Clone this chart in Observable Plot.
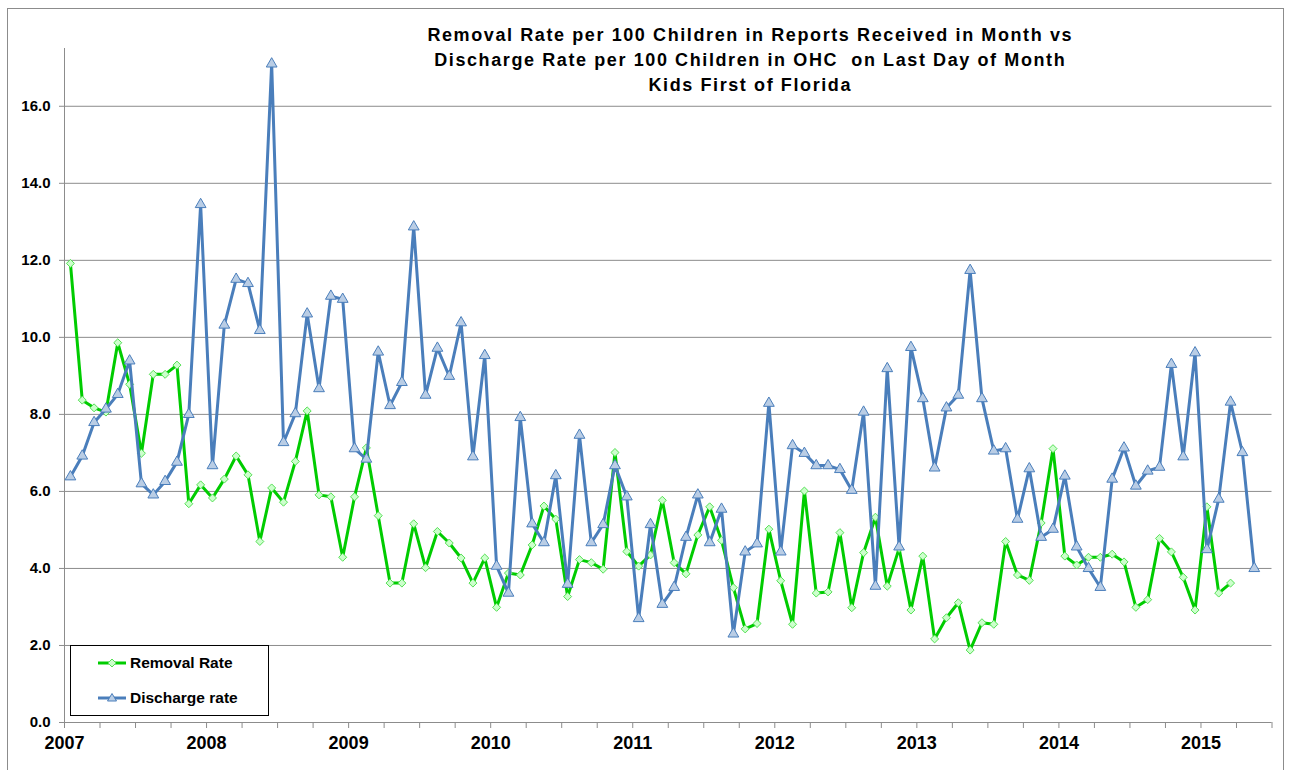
<!DOCTYPE html>
<html><head><meta charset="utf-8">
<script src="https://cdn.jsdelivr.net/npm/d3@7"></script>
<script src="https://cdn.jsdelivr.net/npm/@observablehq/plot@0.6"></script>
<style>
body{margin:0;background:#fff;font-family:"Liberation Sans",Arial,sans-serif;}
#wrap{position:relative;width:1294px;height:770px;overflow:hidden;}
#frame{position:absolute;left:7px;top:8px;width:1277px;height:780px;border:1px solid #8c8c8c;pointer-events:none;box-sizing:border-box;}
#legend{position:absolute;left:70px;top:645px;width:199px;height:71px;border:1px solid #000;background:#fff;box-sizing:border-box;font-weight:bold;font-size:15.5px;color:#000;}
#legend .row{position:absolute;left:27px;height:20px;display:flex;align-items:center;}
#legend svg{margin-right:3px;}
</style></head><body><div id="wrap"><div id="frame"></div></div>
<script>
const startYear = 2007;
const monthsOnAxis = 102;
const seriesNames = ["Removal Rate", "Discharge rate"];
const titleLines = [
  "Removal Rate per 100 Children in Reports Received in Month vs",
  "Discharge Rate per 100 Children in OHC  on Last Day of Month",
  "Kids First of Florida"
];
const yTicks = [0, 2, 4, 6, 8, 10, 12, 14, 16];
// monthly values starting Jan 2007
const removalRate = [
  11.92, 8.37, 8.17, 8.06, 9.86, 8.78, 6.99, 9.04, 9.04, 9.28, 5.68, 6.17,
  5.83, 6.32, 6.92, 6.43, 4.70, 6.09, 5.72, 6.78, 8.09, 5.91, 5.86, 4.29,
  5.86, 7.13, 5.37, 3.62, 3.62, 5.16, 4.02, 4.96, 4.66, 4.27, 3.62, 4.27,
  2.99, 3.88, 3.83, 4.61, 5.62, 5.28, 3.27, 4.23, 4.15, 3.98, 7.01, 4.44,
  4.06, 4.35, 5.77, 4.15, 3.86, 4.87, 5.60, 4.73, 3.50, 2.43, 2.57, 5.02,
  3.68, 2.55, 6.01, 3.36, 3.39, 4.93, 2.98, 4.41, 5.33, 3.54, 4.52, 2.92,
  4.32, 2.17, 2.72, 3.11, 1.88, 2.59, 2.55, 4.70, 3.83, 3.69, 5.18, 7.11,
  4.32, 4.09, 4.29, 4.29, 4.37, 4.17, 2.99, 3.19, 4.78, 4.43, 3.77, 2.92,
  5.60, 3.36, 3.62
];
const dischargeRate = [
  6.38, 6.92, 7.79, 8.14, 8.52, 9.39, 6.20, 5.91, 6.26, 6.76, 8.00, 13.45,
  6.67, 10.32, 11.51, 11.40, 10.18, 17.10, 7.27, 8.02, 10.61, 8.67, 11.07, 10.99,
  7.11, 6.84, 9.62, 8.23, 8.83, 12.87, 8.50, 9.72, 8.99, 10.38, 6.90, 9.53,
  4.06, 3.36, 7.92, 5.16, 4.67, 6.41, 3.59, 7.46, 4.67, 5.14, 6.67, 5.86,
  2.70, 5.14, 3.07, 3.51, 4.81, 5.91, 4.67, 5.54, 2.30, 4.43, 4.64, 8.29,
  4.43, 7.19, 6.99, 6.67, 6.67, 6.57, 6.03, 8.06, 3.54, 9.19, 4.56, 9.74,
  8.41, 6.61, 8.17, 8.50, 11.74, 8.41, 7.05, 7.11, 5.28, 6.59, 4.81, 5.02,
  6.40, 4.56, 4.00, 3.51, 6.32, 7.13, 6.14, 6.53, 6.63, 9.30, 6.90, 9.60,
  4.49, 5.80, 8.32, 7.01, 4.00
];

const greenLine = "#00cc00", greenFill = "#ccffcc", greenMark = "#55e055";
const blueLine = "#4a7ebb", blueFill = "#b9cde5", blueMark = "#4a7ebb";
const gridColor = "#8c8c8c";

const removalRows = removalRate.map((v, i) => ({m: i + 0.5, v}));
const dischargeRows = dischargeRate.map((v, i) => ({m: i + 0.5, v}));

const chart = Plot.plot({
  width: 1294,
  height: 770,
  marginLeft: 64,
  marginRight: 22.5,
  marginTop: 48,
  marginBottom: 48,
  style: {fontFamily: "'Liberation Sans', Arial, sans-serif", background: "transparent", color: "#000"},
  x: {domain: [0, monthsOnAxis], label: null},
  y: {domain: [0, 17.5], label: null},
  marks: [
    Plot.gridY(yTicks.filter(d => d > 0), {stroke: gridColor, strokeOpacity: 1, strokeWidth: 1}),
    Plot.ruleY([0], {stroke: gridColor, strokeWidth: 1}),
    Plot.ruleX([0], {stroke: gridColor, strokeWidth: 1}),
    Plot.axisY({ticks: yTicks, tickFormat: d3.format(".1f"), tickSize: 5, tickPadding: 9,
      fontSize: 15, fontWeight: "bold", stroke: gridColor, fill: "#000", label: null}),
    Plot.axisX({ticks: d3.range(0, monthsOnAxis + 1, 3),
      tickFormat: d => d % 12 === 0 ? String(startYear + d / 12) : "",
      tickSize: 6, tickPadding: 8, fontSize: 18, fontWeight: "bold", stroke: gridColor, fill: "#000", label: null}),
    Plot.line(removalRows, {x: "m", y: "v", stroke: greenLine, strokeWidth: 3, curve: "linear"}),
    Plot.dot(removalRows, {x: "m", y: "v", symbol: "diamond2", r: 3.6, fill: greenFill, stroke: greenMark, strokeWidth: 1}),
    Plot.line(dischargeRows, {x: "m", y: "v", stroke: blueLine, strokeWidth: 3, curve: "linear"}),
    Plot.dot(dischargeRows, {x: "m", y: "v", symbol: "triangle", r: 4, fill: blueFill, stroke: blueMark, strokeWidth: 1}),
    ...titleLines.map((t, k) => Plot.text([t], {frameAnchor: "top", dx: 82, dy: -13 + 25 * k,
      lineAnchor: "middle", fontSize: 18, fontWeight: "bold", fill: "#000", title: null}))
  ]
});
// widen title letter spacing like the reference
chart.querySelectorAll("g[aria-label='text'] text").forEach(t => {
  if (titleLines.includes(t.textContent)) t.style.letterSpacing = "1.6px";
});
const wrap = document.getElementById("wrap");
wrap.insertBefore(chart, wrap.firstChild);
chart.style.position = "absolute";
chart.style.left = "0px";
chart.style.top = "0px";

// legend
const legend = document.createElement("div");
legend.id = "legend";
const legendItems = [
  {name: seriesNames[0], line: greenLine, fill: greenFill, mark: greenMark, sym: "diamond"},
  {name: seriesNames[1], line: blueLine, fill: blueFill, mark: blueMark, sym: "triangle"}
];
legendItems.forEach((it, k) => {
  const row = document.createElement("div");
  row.className = "row";
  row.style.top = (7 + 35 * k) + "px";
  const sym = it.sym === "diamond"
    ? `<path d="M14,6 L18,10 L14,14 L10,10 Z" fill="${it.fill}" stroke="${it.mark}" stroke-width="1"/>`
    : `<path d="M14,5.5 L18.5,13 L9.5,13 Z" fill="${it.fill}" stroke="${it.mark}" stroke-width="1"/>`;
  row.innerHTML = `<svg width="29" height="20"><line x1="0" x2="28" y1="10" y2="10" stroke="${it.line}" stroke-width="3"/>${sym}</svg><span>${it.name}</span>`;
  legend.appendChild(row);
});
wrap.appendChild(legend);
</script>
</body></html>
